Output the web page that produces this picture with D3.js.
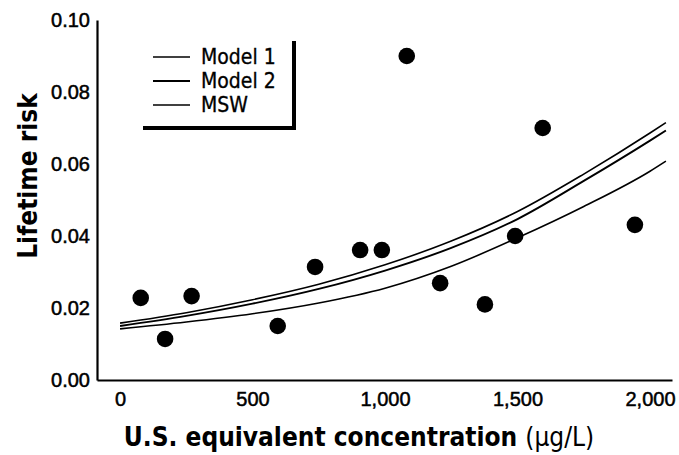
<!DOCTYPE html>
<html>
<head>
<meta charset="utf-8">
<script src="https://cdn.jsdelivr.net/npm/d3@7"></script>
<style>
  body { margin: 0; background: #fff; }
  svg { display: block; font-family: "Liberation Sans Narrow", "DejaVu Sans Condensed", sans-serif; }
</style>
</head>
<body>
<div id="chart"></div>
<script>
// observed points
const concentration = [78, 170, 270, 595, 736, 906, 988, 1082, 1208, 1377, 1491, 1595, 1943];
const risk = [0.0228, 0.0114, 0.0233, 0.0150, 0.0314, 0.0361, 0.0361, 0.0900, 0.0269, 0.0210, 0.0400, 0.0700, 0.0431];

// fitted curves
const curveX = [0, 250, 500, 750, 1000, 1250, 1500, 1750, 2000, 2060];
const model1 = [0.0158, 0.0187, 0.0223, 0.0266, 0.0320, 0.0386, 0.0468, 0.0572, 0.0686, 0.0715];
const model2 = [0.0150, 0.0178, 0.0212, 0.0253, 0.0304, 0.0367, 0.0447, 0.0553, 0.0665, 0.0693];
const msw = [0.0142, 0.0161, 0.0184, 0.0214, 0.0255, 0.0316, 0.0395, 0.0482, 0.0580, 0.0608];

const seriesNames = ['Model 1', 'Model 2', 'MSW'];
const xTicks = [0, 500, 1000, 1500, 2000];
const yTicks = [0, 0.02, 0.04, 0.06, 0.08, 0.10];

const width = 679;
const height = 455;

const svg = d3.select('#chart')
  .append('svg')
  .attr('width', width)
  .attr('height', height);

const x = d3.scaleLinear().domain([-87, 2083]).range([97, 672]);
const y = d3.scaleLinear().domain([0, 0.10]).range([380, 20]);

// axes
svg.append('g')
  .attr('transform', `translate(0,${y(0)})`)
  .call(d3.axisBottom(x).tickValues(xTicks).tickSize(0).tickPadding(12).tickFormat(d3.format(',')))
  .call(g => g.select('.domain').attr('stroke', '#000').attr('stroke-width', 2.2))
  .call(g => g.selectAll('text').attr('font-size', 20).attr('fill', '#000')
    .attr('stroke', '#000').attr('stroke-width', 0.5).attr('font-family', null));

svg.append('g')
  .attr('transform', `translate(${x.range()[0]},0)`)
  .call(d3.axisLeft(y).tickValues(yTicks).tickSize(0).tickPadding(7).tickFormat(d3.format('.2f')))
  .call(g => g.select('.domain').attr('stroke', '#000').attr('stroke-width', 2.2))
  .call(g => g.selectAll('text').attr('font-size', 20).attr('fill', '#000')
    .attr('stroke', '#000').attr('stroke-width', 0.5).attr('font-family', null));

// titles
svg.append('text')
  .attr('transform', `translate(37,176) rotate(-90)`)
  .attr('text-anchor', 'middle')
  .attr('font-size', 26)
  .attr('font-weight', 'bold')
  .text('Lifetime risk');

const xt = svg.append('text')
  .attr('x', 359)
  .attr('y', 446)
  .attr('text-anchor', 'middle')
  .attr('font-size', 26);
xt.append('tspan').attr('font-weight', 'bold').text('U.S. equivalent concentration ');
xt.append('tspan').text('(µg/L)');

// curves
const line = d3.line()
  .x(d => x(d[0]))
  .y(d => y(d[1]))
  .curve(d3.curveMonotoneX);

[model1, model2, msw].forEach((vals, i) => {
  svg.append('path')
    .datum(curveX.map((c, j) => [c, vals[j]]))
    .attr('fill', 'none')
    .attr('stroke', '#000')
    .attr('stroke-width', i === 1 ? 1.9 : 1.6)
    .attr('d', line);
});

// points
svg.append('g')
  .selectAll('circle')
  .data(concentration.map((c, i) => [c, risk[i]]))
  .join('circle')
  .attr('cx', d => x(d[0]))
  .attr('cy', d => y(d[1]))
  .attr('r', 8.3)
  .attr('fill', '#000');

// legend
const legend = svg.append('g');
legend.append('path')
  .attr('d', 'M294,41 V128 H143')
  .attr('fill', 'none')
  .attr('stroke', '#000')
  .attr('stroke-width', 4);

seriesNames.forEach((name, i) => {
  const ly = 57 + i * 24;
  legend.append('line')
    .attr('x1', 153).attr('x2', 190)
    .attr('y1', ly).attr('y2', ly)
    .attr('stroke', '#000')
    .attr('stroke-width', i === 1 ? 1.9 : 1.5);
  legend.append('text')
    .attr('x', 201)
    .attr('y', ly + 7)
    .attr('font-size', 21)
    .attr('stroke', '#000')
    .attr('stroke-width', 0.3)
    .text(name);
});
</script>
</body>
</html>
